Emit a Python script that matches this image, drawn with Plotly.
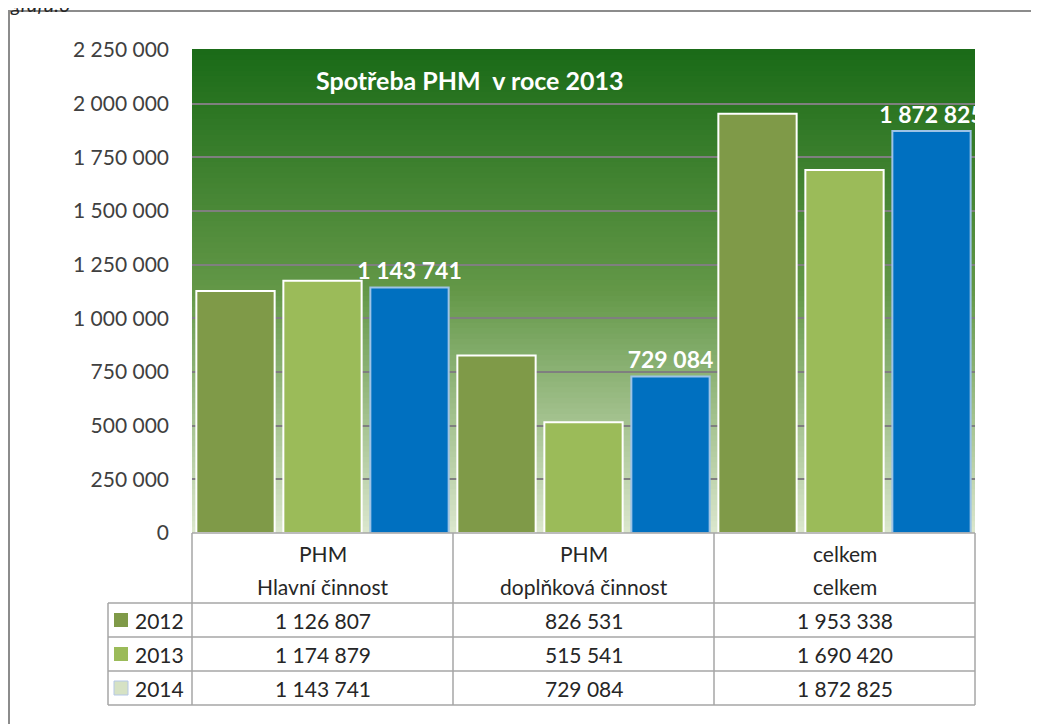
import plotly.graph_objects as go

# data
categories = ["PHM Hlavní činnost", "PHM doplňková činnost", "celkem celkem"]
cat_line1 = ["PHM", "PHM", "celkem"]
cat_line2 = ["Hlavní činnost", "doplňková činnost", "celkem"]
years = ["2012", "2013", "2014"]
v2012 = [1126807, 826531, 1953338]
v2013 = [1174879, 515541, 1690420]
v2014 = [1143741, 729084, 1872825]
y_ticks = [0, 250000, 500000, 750000, 1000000, 1250000, 1500000, 1750000, 2000000, 2250000]

# page body has an 8px margin, so the figure is drawn 8px smaller
OFF = 8
W, H = 1039 - OFF, 724 - OFF
L, R, T, B = 192, 975, 50, 533   # plot area in page px

def px(x):
    return (x - L) / (R - L)

def py(y):
    return (B - y) / (B - T)

def fmt(v):
    return f"{v:,}".replace(",", " ")

colors = ["#7f9a48", "#9bbb59", "#0070c0"]
outlines = ["white", "white", "#9dc3e6"]
series = [v2012, v2013, v2014]
FONT = "Lato"

fig = go.Figure()
for i, (yr, vals) in enumerate(zip(years, series)):
    fig.add_trace(go.Bar(
        x=categories, y=vals, name=yr,
        marker=dict(color=colors[i], line=dict(color=outlines[i], width=2)),
        text=[fmt(v) for v in vals] if yr == "2014" else None,
        textposition="outside" if yr == "2014" else "none",
        textfont=dict(color="white", size=23, family=FONT, weight="bold"),
        constraintext="none",
        cliponaxis=True,
    ))

shapes = []
# gradient background of plot area (dark green -> pale green)
top_c = (27, 107, 24)
mid_c = (100, 152, 72)
bot_c = (218, 230, 204)
n = 90
for k in range(n):
    t = k / (n - 1)
    if t < 0.5:
        a, b, s = top_c, mid_c, t / 0.5
    else:
        a, b, s = mid_c, bot_c, (t - 0.5) / 0.5
    c = tuple(int(a[j] + (b[j] - a[j]) * s) for j in range(3))
    shapes.append(dict(type="rect", xref="x domain", yref="y domain",
                       x0=0, x1=1, y0=1 - (k + 1) / n, y1=1 - k / n + 0.002,
                       fillcolor="rgb(%d,%d,%d)" % c, line=dict(width=0), layer="below"))

grid = "#a6a6a6"
def hline(x0, x1, y):
    shapes.append(dict(type="line", xref="paper", yref="paper", x0=px(x0), x1=px(x1),
                       y0=py(y), y1=py(y), line=dict(color=grid, width=1.5)))

def vline(x, y0, y1):
    shapes.append(dict(type="line", xref="paper", yref="paper", x0=px(x), x1=px(x),
                       y0=py(y0), y1=py(y1), line=dict(color=grid, width=1.5)))

# data table grid
hline(L, R, 533)
for yy in [603, 637, 671, 705]:
    hline(108, R, yy)
for xx in [L, 453, 714, R]:
    vline(xx, 533, 705)
vline(108, 603, 705)

# legend keys in table
key_cols = ["#7f9a48", "#9bbb59", "#d6e2c4"]
row_y = [620, 654, 688]
for i in range(3):
    shapes.append(dict(type="rect", xref="paper", yref="paper",
                       x0=px(114), x1=px(128), y0=py(row_y[i] + 7), y1=py(row_y[i] - 7),
                       fillcolor=key_cols[i], line=dict(width=0 if i < 2 else 1, color="#b4c7e7")))

# outer chart border
shapes.append(dict(type="rect", xref="paper", yref="paper",
                   x0=px(9), x1=px(1060), y0=py(740), y1=py(11),
                   line=dict(color="#8c8c8c", width=2), fillcolor="rgba(0,0,0,0)", layer="below"))

annotations = []
txt = dict(family=FONT, size=21, color="#262626")
for i in range(3):
    annotations.append(dict(x=i, y=py(553), xref="x", yref="paper", text=cat_line1[i],
                            showarrow=False, font=txt, yanchor="middle"))
    annotations.append(dict(x=i, y=py(586), xref="x", yref="paper", text=cat_line2[i],
                            showarrow=False, font=txt, yanchor="middle"))
for r, (yr, vals) in enumerate(zip(years, series)):
    annotations.append(dict(x=px(133), y=py(row_y[r]), xref="paper", yref="paper", text=yr,
                            showarrow=False, font=txt, xanchor="left", yanchor="middle"))
    for i, v in enumerate(vals):
        annotations.append(dict(x=i, y=py(row_y[r]), xref="x", yref="paper", text=fmt(v),
                                showarrow=False, font=txt, yanchor="middle"))

# chart title
annotations.append(dict(x=px(470), y=py(80), xref="paper", yref="paper",
                        text="Spotřeba PHM\u00a0 v roce 2013", showarrow=False,
                        font=dict(family=FONT, size=25, color="white", weight="bold"),
                        yanchor="middle"))
# caption above the chart, cut off by the page top as in the original
annotations.append(dict(x=px(OFF), y=py(4), xref="paper", yref="paper", text="<i>grafu.3</i>",
                        showarrow=False, font=dict(family=FONT, size=20, color="#262626"),
                        xanchor="left", yanchor="middle"))

fig.update_layout(
    width=W, height=H,
    margin=dict(l=L - OFF, r=W - (R - OFF), t=T - OFF, b=H - (B - OFF), pad=0),
    paper_bgcolor="white", plot_bgcolor="rgba(0,0,0,0)",
    separators=", ",
    barmode="group", bargap=0.0, bargroupgap=0.1,
    showlegend=False,
    font=dict(family=FONT),
    shapes=shapes, annotations=annotations,
)
fig.update_xaxes(showticklabels=False, showgrid=False, showline=False, ticks="")
fig.update_yaxes(range=[0, 2250000], tickvals=y_ticks, tickformat=",",
                 showgrid=True, gridcolor="#7f7f7f", gridwidth=1.5,
                 zeroline=False, showline=False, ticks="",
                 tickfont=dict(family=FONT, size=21, color="#404040"),
                 ticklabelstandoff=22)

fig.write_html("out.html")
